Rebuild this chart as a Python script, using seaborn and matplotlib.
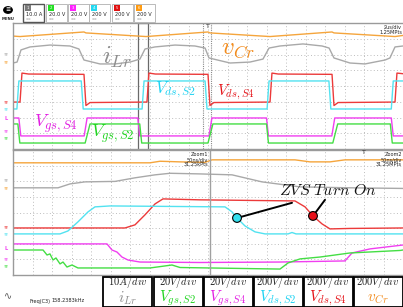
import matplotlib
matplotlib.use("Agg")
import matplotlib.pyplot as plt
from matplotlib.patches import Rectangle, Circle
import pandas as pd
import seaborn as sns

sns.set_theme(style="white")
plt.rcParams['font.family'] = ['DejaVu Sans']
plt.rcParams['mathtext.fontset'] = 'cm'

W, H = 403, 307

# ---------------- data: top panel (time in us, 2 us/div; level in divisions)
ilr_top_t = [0, 0.21, 0.41, 0.87, 1.90, 2.92, 3.38, 3.64, 4.46, 5.23, 6.00, 6.51, 6.77, 7.28, 8.31, 9.33, 9.85,
             10.05, 11.13, 12.15, 12.82, 13.13, 13.69, 14.87, 15.85, 16.21, 16.46, 17.28, 18.05, 19.08, 19.33, 19.59, 20]
ilr_top_v = [5.46, 5.52, 6.29, 6.48, 6.60, 6.54, 6.35, 5.65, 5.40, 5.40, 5.52, 5.71, 6.35, 6.48, 6.60, 6.54, 6.41,
             5.78, 5.46, 5.52, 5.71, 6.41, 6.54, 6.67, 6.54, 6.41, 5.78, 5.46, 5.40, 5.65, 5.78, 6.48, 6.54]
vcr_top_t = [0, 0.36, 3.64, 3.74, 6.82, 10.0, 10.1, 13.18, 16.36, 16.46, 19.59, 20]
vcr_top_v = [7.17, 7.14, 7.43, 7.37, 7.14, 7.43, 7.37, 7.14, 7.43, 7.37, 7.14, 7.21]
vds4_top_t = [0, 0.36, 0.46, 0.8, 3.64, 3.74, 3.95, 6.87, 6.97, 7.3, 10.0, 10.1, 10.3, 13.18, 13.28, 13.6,
              16.36, 16.46, 16.67, 19.59, 19.69, 20]
vds4_top_v = [2.98, 2.98, 4.82, 4.76, 4.74, 2.76, 2.95, 2.98, 4.82, 4.76, 4.74, 2.76, 2.95, 2.98, 4.82, 4.76,
              4.74, 2.76, 2.95, 2.98, 4.82, 4.78]
vds2_top_t = [0, 0.2, 0.3, 3.5, 3.6, 6.62, 6.72, 9.85, 9.95, 13.03, 13.13, 16.2, 16.3, 19.4, 19.5, 20]
vds2_top_v = [2.54, 2.54, 4.32, 4.32, 2.54, 2.54, 4.32, 4.32, 2.54, 2.54, 4.32, 4.32, 2.54, 2.54, 4.32, 4.32]
vgs4_top_t = [0, 0.3, 0.4, 3.65, 3.8, 6.4, 6.5, 10.05, 10.2, 13.0, 13.1, 16.35, 16.5, 19.4, 19.5, 20]
vgs4_top_v = [1.97, 1.97, 0.83, 0.83, 1.97, 1.97, 0.83, 0.83, 1.97, 1.97, 0.83, 0.83, 1.97, 1.97, 0.83, 0.83]
vgs2_top_t = [0, 0.25, 0.35, 3.7, 3.95, 6.5, 6.6, 10.0, 10.25, 13.0, 13.1, 16.4, 16.65, 19.35, 19.45, 20]
vgs2_top_v = [1.59, 1.59, 0.38, 0.38, 1.59, 1.59, 0.38, 0.38, 1.59, 1.59, 0.38, 0.38, 1.59, 1.59, 0.38, 0.38]

# ---------------- data: zoomed panel (time in ns, 50 ns/div; level in divisions)
vcr_bot_t = [0, 175.6, 188.5, 214.1, 246.2, 255.1, 361.5, 380.8, 406.4, 425.6, 500]
vcr_bot_v = [7.18, 7.18, 7.28, 7.24, 7.21, 7.37, 7.37, 7.24, 7.24, 7.37, 7.37]
ilr_bot_t = [0, 57.7, 73.1, 92.3, 130.8, 156.4, 182.1, 201.3, 239.7, 280.8, 319.2, 368.0, 432.1, 500]
ilr_bot_v = [5.58, 5.58, 5.83, 5.96, 5.99, 6.22, 6.41, 6.51, 6.47, 6.41, 5.96, 5.64, 5.58, 5.54]
vds4_bot_t = [0, 143.6, 156.4, 169.2, 182.1, 192.3, 239.7, 361.5, 374.4, 384.6, 396.2, 406.4, 432.1, 500]
vds4_bot_v = [3.01, 3.01, 3.21, 3.85, 4.55, 4.87, 4.81, 4.74, 4.36, 3.78, 3.27, 2.95, 2.98, 3.01]
vds2_bot_t = [0, 60.3, 70.5, 83.3, 96.2, 105.1, 124.4, 271.8, 280.8, 287.2, 297.4, 310.3, 323.1, 352.6, 357.7,
              362.8, 500]
vds2_bot_v = [2.63, 2.63, 2.82, 3.40, 4.04, 4.36, 4.42, 4.36, 4.04, 3.65, 3.14, 2.76, 2.63, 2.63, 2.72,
              2.63, 2.63]
vgs4_bot_t = [0, 120.5, 126.9, 133.3, 139.7, 147.4, 162.8, 239.7, 342.3, 425.6, 434.6, 457.7, 500]
vgs4_bot_v = [1.99, 1.99, 1.60, 1.47, 1.15, 0.96, 0.83, 0.80, 0.83, 0.90, 1.41, 1.67, 1.92]
vgs2_bot_t = [0, 38.5, 43.6, 47.4, 51.3, 55.1, 60.3, 64.1, 69.2, 75.6, 83.3, 98.7, 175.6, 194.9, 203.8, 214.1,
              342.3, 352.6, 368.0, 393.6, 432.1, 496.2, 500]
vgs2_bot_v = [1.60, 1.60, 1.28, 1.35, 0.96, 1.09, 0.71, 0.83, 0.51, 0.64, 0.45, 0.45, 0.45, 0.58, 0.64, 0.48,
              0.38, 0.77, 1.03, 1.15, 1.41, 1.57, 1.60]

zvs_dot_t = [287.2, 384.6]
zvs_dot_v = [3.65, 3.78]
zvs_leader_t = [357.7, 400.0]
zvs_leader_v = [4.62, 4.81]
zvs_text_pos = (403.8, 5.38)

scale_labels = ["$10A/div$", "$20V/div$", "$20V/div$", "$200V/div$", "$200V/div$", "$200V/div$"]
name_labels = ["$i_{Lr}$", "$V_{gs,S2}$", "$V_{gs,S4}$", "$V_{ds,S2}$", "$V_{ds,S4}$", "$v_{Cr}$"]
chan_values = ["10.0 A", "20.0 V", "20.0 V", "200 V", "200 V", "200 V"]

# ---------------- styles
C = {"ilr": "#a9a9a9", "vcr": "#f5a53c", "vds4": "#ec3a3a", "vds2": "#52e2f0",
     "vgs4": "#f03ef0", "vgs2": "#44de44"}
LC = {"ilr": "#8e8e8e", "vcr": "#f28c1e", "vds4": "#e51419", "vds2": "#1ed2f2",
      "vgs4": "#e21fe2", "vgs2": "#22d422"}
order = ["vcr", "ilr", "vds4", "vds2", "vgs4", "vgs2"]


def frame(pairs):
    rows = []
    for name, (ts, vs) in pairs.items():
        for t, v in zip(ts, vs):
            rows.append((name, t, v))
    return pd.DataFrame(rows, columns=["trace", "t", "v"])


top_df = frame({"vcr": (vcr_top_t, vcr_top_v), "ilr": (ilr_top_t, ilr_top_v),
                "vds4": (vds4_top_t, vds4_top_v), "vds2": (vds2_top_t, vds2_top_v),
                "vgs4": (vgs4_top_t, vgs4_top_v), "vgs2": (vgs2_top_t, vgs2_top_v)})
bot_df = frame({"vcr": (vcr_bot_t, vcr_bot_v), "ilr": (ilr_bot_t, ilr_bot_v),
                "vds4": (vds4_bot_t, vds4_bot_v), "vds2": (vds2_bot_t, vds2_bot_v),
                "vgs4": (vgs4_bot_t, vgs4_bot_v), "vgs2": (vgs2_bot_t, vgs2_bot_v)})


def fx(x):
    return x / W


def fy(y):
    return 1 - y / H


fig = plt.figure(figsize=(W / 100, H / 100), dpi=100)
fig.patch.set_facecolor("white")

ax_top = fig.add_axes([fx(13), fy(149), fx(403) - fx(13), fy(23) - fy(149)])
ax_bot = fig.add_axes([fx(13), fy(275), fx(403) - fx(13), fy(150) - fy(275)])

for ax, df, xmax in ((ax_top, top_df, 20.0), (ax_bot, bot_df, 500.0)):
    sns.lineplot(data=df, x="t", y="v", hue="trace", hue_order=order, palette=C,
                 sort=False, estimator=None, legend=False, ax=ax, linewidth=1.0)
    ax.set_xlim(0, xmax)
    ax.set_ylim(0, 8)
    ax.set_xticks([xmax / 20 * k for k in range(1, 20)])
    ax.set_yticks(range(1, 8))
    ax.grid(True, color="#bdbdbd", linestyle=(0, (1, 2.4)), linewidth=0.7)
    ax.tick_params(length=0, labelbottom=False, labelleft=False)
    ax.set_xlabel("")
    ax.set_ylabel("")
    ax.set_facecolor("white")
    for s in ("left", "top", "bottom"):
        ax.spines[s].set_color("#9a9a9a")
        ax.spines[s].set_linewidth(1.0)
    ax.spines["right"].set_visible(False)

# zoom window markers in top panel
ax_top.axvspan(6.41, 6.92, ymin=-0.02, ymax=1.0, fill=False, edgecolor="#6a6a6a", linewidth=0.9, clip_on=False)
ax_top.axvspan(9.74, 10.15, fill=False, edgecolor="#8a8a8a", linewidth=0.8, linestyle=(0, (1, 1)))
ax_bot.axvline(252.6, color="#a0a0a0", linewidth=1.0)

# trace labels (top panel)
ax_top.text(5.33, 5.84, "$i_{Lr}$", color=LC["ilr"], fontsize=18, ha="center", va="center")
ax_top.text(11.54, 6.41, "$v_{Cr}$", color=LC["vcr"], fontsize=18, ha="center", va="center")
ax_top.text(8.31, 3.75, "$V_{ds,S2}$", color=LC["vds2"], fontsize=12, ha="center", va="center")
ax_top.text(11.44, 3.62, "$V_{ds,S4}$", color=LC["vds4"], fontsize=11, ha="center", va="center")
ax_top.text(2.21, 1.59, "$V_{gs,S4}$", color=LC["vgs4"], fontsize=13, ha="center", va="center")
ax_top.text(5.13, 0.95, "$V_{gs,S2}$", color=LC["vgs2"], fontsize=13, ha="center", va="center")

# ZVS annotation (bottom panel)
for t0, v0, t1, v1 in zip(zvs_dot_t, zvs_dot_v, zvs_leader_t, zvs_leader_v):
    ax_bot.plot([t0, t1], [v0, v1], color="black", linewidth=1.4, zorder=5)
sns.scatterplot(x=zvs_dot_t, y=zvs_dot_v, hue=["c", "r"], palette={"c": "#33e0ee", "r": "#e8101a"},
                s=40, edgecolor="black", linewidth=0.8, legend=False, ax=ax_bot, zorder=6)
ax_bot.text(zvs_text_pos[0], zvs_text_pos[1], r"$ZVS\ Turn\ On$", fontsize=11.5, ha="center",
            va="center", color="#111111")

# small scope annotations
small = dict(fontsize=3.6, color="#222222")
fig.text(fx(402), fy(27), "2us/div", ha="right", va="center", **small)
fig.text(fx(402), fy(32.5), "1.25MPts", ha="right", va="center", **small)
for xr, lab in ((208, "31.25kPts"), (402, "31.25MPts")):
    fig.text(fx(xr), fy(154), "Zoom1" if xr < 300 else "Zoom2", ha="right", va="center", **small)
    fig.text(fx(xr), fy(159.5), "50ns/div", ha="right", va="center", **small)
    fig.text(fx(xr), fy(165), lab, ha="right", va="center", **small)
fig.text(fx(208), fy(27), "T", ha="center", va="center", fontsize=4.5, color="#333333")
fig.text(fx(364), fy(153), "T", ha="center", va="center", fontsize=4.5, color="#333333")

# channel ground markers on left edge
markers = [(55, "ilr", "∓"), (63, "vcr", "∓"), (102.5, "vds4", "∓"), (109.5, "vds2", "∓"),
           (119, "vgs4", "L"), (131.5, "vgs4", "∓"), (138.5, "vgs2", "∓"),
           (180, "ilr", "∓"), (188, "vcr", "∓"), (227.5, "vds4", "∓"), (234.5, "vds2", "∓"),
           (248, "vgs4", "L"), (259.5, "vgs4", "∓"), (267, "vgs2", "∓")]
for yy, key, g in markers:
    fig.text(fx(6), fy(yy), g, ha="center", va="center", fontsize=3.6, color=C[key],
             fontweight="bold")

# toolbar
fig.add_artist(Circle((fx(8), fy(10)), 4.2 / W, transform=fig.transFigure, color="black"))
fig.text(fx(8), fy(10), "≡", ha="center", va="center", fontsize=4.5, color="white", fontweight="bold")
fig.text(fx(8), fy(19.5), "MENU", ha="center", va="center", fontsize=2.8, color="#222222",
         fontweight="bold")
box_x = [23, 46, 68, 89, 112, 134]
sq_col = ["#7a7a7a", "#22e022", "#ff22ff", "#22d8f0", "#e01010", "#ff9a10"]
for i, (bx, val) in enumerate(zip(box_x, chan_values)):
    fig.add_artist(Rectangle((fx(bx), fy(22)), 21 / W, 18 / H, transform=fig.transFigure,
                             facecolor="white", edgecolor="#555555" if i == 0 else "#b0b0b0",
                             linewidth=1.0 if i == 0 else 0.6))
    fig.add_artist(Rectangle((fx(bx + 2), fy(11)), 6 / W, 6 / H, transform=fig.transFigure,
                             facecolor=sq_col[i], edgecolor="none"))
    fig.text(fx(bx + 5), fy(8), str(i + 1), ha="center", va="center", fontsize=2.8, color="white")
    fig.text(fx(bx + 3), fy(14.5), val, ha="left", va="center", fontsize=3.6, color="#222222")
    fig.text(fx(bx + 3), fy(19.5), "==", ha="left", va="center", fontsize=2.4, color="#666666")

# bottom status
fig.text(fx(8), fy(296), "∿", ha="center", va="center", fontsize=7, color="#555555")
fig.text(fx(30), fy(301), "Freq(C3)", ha="left", va="center", **small)
fig.text(fx(52), fy(301), "158.2383kHz", ha="left", va="center", **small)

# legend boxes
name_keys = ["ilr", "vgs2", "vgs4", "vds2", "vds4", "vcr"]
for i, (sl, nl, key) in enumerate(zip(scale_labels, name_labels, name_keys)):
    x0 = 103 + 50 * i
    fig.add_artist(Rectangle((fx(x0 + 0.5), fy(306.5)), 49 / W, 30 / H, transform=fig.transFigure,
                             facecolor="white", edgecolor="black", linewidth=1.3))
    fig.text(fx(x0 + 25), fy(282.5), sl, ha="center", va="center", fontsize=7.6, color="#222222")
    fig.text(fx(x0 + 25), fy(298.5), nl, ha="center", va="center", fontsize=11, color=LC[key])

fig.savefig("out.png", dpi=100, facecolor="white")
